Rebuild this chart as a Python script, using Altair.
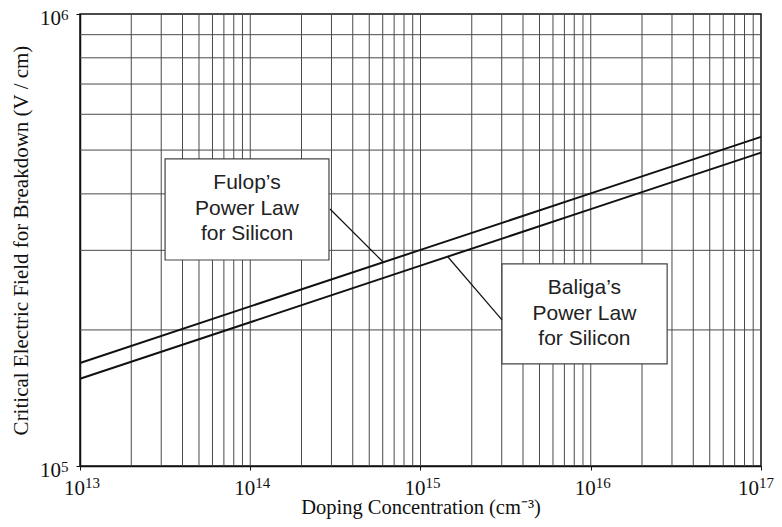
import altair as alt
import pandas as pd

# Doping concentration (cm^-3) at each decade
doping = [1e13, 1e14, 1e15, 1e16, 1e17]
# Critical electric field (V/cm)
fulop_field = [169000, 225500, 300700, 401000, 534700]
baliga_field = [156000, 208000, 277500, 370000, 493400]

x_decades = [1e13, 1e14, 1e15, 1e16, 1e17]
x_tick_exponents = ["13", "14", "15", "16", "17"]
y_decades = [1e5, 1e6]
y_tick_exponents = ["5", "6"]

# minor grid multipliers
mult = [1, 2, 3, 4, 5, 6, 7, 8, 9]

# annotation boxes (data coordinates)
box_names = ["Fulop", "Baliga"]
box_x0 = [3.16e13, 3.01e15]
box_x1 = [2.90e14, 2.81e16]
box_y0 = [2.856e5, 1.682e5]
box_y1 = [4.78e5, 2.80e5]
box_text = ["Fulop’s\nPower Law\nfor Silicon", "Baliga’s\nPower Law\nfor Silicon"]
box_tx = [9.57e13, 9.18e15]
box_ty = [4.227e5, 2.476e5]
# leader lines
lead_x0 = [2.94e14, 3.01e15]
lead_y0 = [3.704e5, 2.104e5]
lead_x1 = [6.03e14, 1.45e15]
lead_y1 = [2.827e5, 2.90e5]

XMIN, XMAX = 1e13, 1e17
YMIN, YMAX = 1e5, 1e6
W, H = 681, 452

xs = alt.Scale(type="log", domain=[XMIN, XMAX], nice=False)
ys = alt.Scale(type="log", domain=[YMIN, YMAX], nice=False)

rows = []
for n, f, b in zip(doping, fulop_field, baliga_field):
    rows.append({"N": n, "E": f, "law": "Fulop"})
    rows.append({"N": n, "E": b, "law": "Baliga"})
lines_df = pd.DataFrame(rows)

vgrid = pd.DataFrame({"x": [d * m for d in x_decades[:-1] for m in mult][1:], "y0": YMIN, "y1": YMAX})
hgrid = pd.DataFrame({"y": [d * m for d in y_decades[:-1] for m in mult][1:], "x0": XMIN, "x1": XMAX})

boxes = pd.DataFrame({"name": box_names, "x0": box_x0, "x1": box_x1, "y0": box_y0, "y1": box_y1,
                      "text": box_text, "tx": box_tx, "ty": box_ty,
                      "lx0": lead_x0, "ly0": lead_y0, "lx1": lead_x1, "ly1": lead_y1})

xlab = pd.DataFrame({"v": x_decades, "base": "10", "exp": x_tick_exponents})
ylab = pd.DataFrame({"v": y_decades, "base": "10", "exp": y_tick_exponents})

GRID = "#4a4a4a"
INK = "#111"
SERIF = "Liberation Serif"

xaxis = alt.Axis(
    values=x_decades, grid=False, labels=False,
    title="Doping Concentration (cm⁻³)", tickSize=4, tickColor=INK,
    domainColor=INK, domainWidth=1.5,
    titleFont=SERIF, titleFontSize=20.5, titleFontWeight="normal",
    titleColor=INK, titleBaseline="alphabetic", titleY=47)
yaxis = alt.Axis(
    values=y_decades, grid=False, labels=False,
    title="Critical Electric Field for Breakdown (V / cm)", tickSize=4,
    tickColor=INK, domainColor=INK, domainWidth=1.5,
    titleFont=SERIF, titleFontSize=21, titleFontWeight="normal",
    titleColor=INK, titleBaseline="alphabetic", titleX=-53)

vg = alt.Chart(vgrid).mark_rule(color=GRID, strokeWidth=1).encode(
    x=alt.X("x:Q", scale=xs, axis=xaxis),
    y=alt.Y("y0:Q", scale=ys, axis=yaxis),
    y2="y1:Q",
)
hg = alt.Chart(hgrid).mark_rule(color=GRID, strokeWidth=1).encode(
    y=alt.Y("y:Q", scale=ys, axis=yaxis),
    x=alt.X("x0:Q", scale=xs, axis=xaxis),
    x2="x1:Q",
)

rects = alt.Chart(boxes).mark_rect(fill="white", stroke="#444", strokeWidth=1.2).encode(
    x=alt.X("x0:Q", scale=xs, axis=xaxis), x2="x1:Q",
    y=alt.Y("y0:Q", scale=ys, axis=yaxis), y2="y1:Q",
)
leaders = alt.Chart(boxes).mark_rule(color=INK, strokeWidth=1.2).encode(
    x=alt.X("lx0:Q", scale=xs, axis=xaxis), x2="lx1:Q",
    y=alt.Y("ly0:Q", scale=ys, axis=yaxis), y2="ly1:Q",
)
texts = alt.Chart(boxes).mark_text(
    font="Liberation Sans", fontSize=21, color="#222", lineBreak="\n",
    lineHeight=25.5, align="center", baseline="middle"
).encode(
    x=alt.X("tx:Q", scale=xs, axis=xaxis),
    y=alt.Y("ty:Q", scale=ys, axis=yaxis),
    text="text:N",
)

curves = alt.Chart(lines_df).mark_line(color=INK, strokeWidth=2).encode(
    x=alt.X("N:Q", scale=xs, axis=xaxis),
    y=alt.Y("E:Q", scale=ys, axis=yaxis),
    detail="law:N",
)


def xlabels(flt, shift):
    base = alt.Chart(xlab).transform_filter(flt).mark_text(
        font=SERIF, fontSize=21, color=INK, align="right", baseline="alphabetic", dx=shift
    ).encode(x=alt.X("v:Q", scale=xs, axis=xaxis), y=alt.value(H + 29), text="base:N")
    exp = alt.Chart(xlab).transform_filter(flt).mark_text(
        font=SERIF, fontSize=15, color=INK, align="left", baseline="alphabetic", dx=shift
    ).encode(x=alt.X("v:Q", scale=xs, axis=xaxis), y=alt.value(H + 22), text="exp:N")
    return [base, exp]


# tick labels with real superscripts (last one nudged in to stay on the page)
xl_main = xlabels(alt.datum.v < XMAX * 0.5, 5)
xl_edge = xlabels(alt.datum.v > XMAX * 0.5, -2)

ybase = alt.Chart(ylab).mark_text(
    font=SERIF, fontSize=21, color=INK, align="right", baseline="alphabetic", dy=10.5
).encode(y=alt.Y("v:Q", scale=ys, axis=yaxis), x=alt.value(-19), text="base:N")
yexp = alt.Chart(ylab).mark_text(
    font=SERIF, fontSize=15, color=INK, align="left", baseline="alphabetic", dy=5.5
).encode(y=alt.Y("v:Q", scale=ys, axis=yaxis), x=alt.value(-19), text="exp:N")

chart = alt.layer(vg, hg, curves, rects, leaders, texts, *xl_main, *xl_edge, ybase, yexp).properties(
    width=W, height=H,
    autosize=alt.AutoSizeParams(type="none"),
    padding={"left": 72, "top": 6, "right": 13, "bottom": 53},
).configure_view(stroke=INK, strokeWidth=1.5)

chart.save("out.html", embed_options={"renderer": "svg", "actions": False})
